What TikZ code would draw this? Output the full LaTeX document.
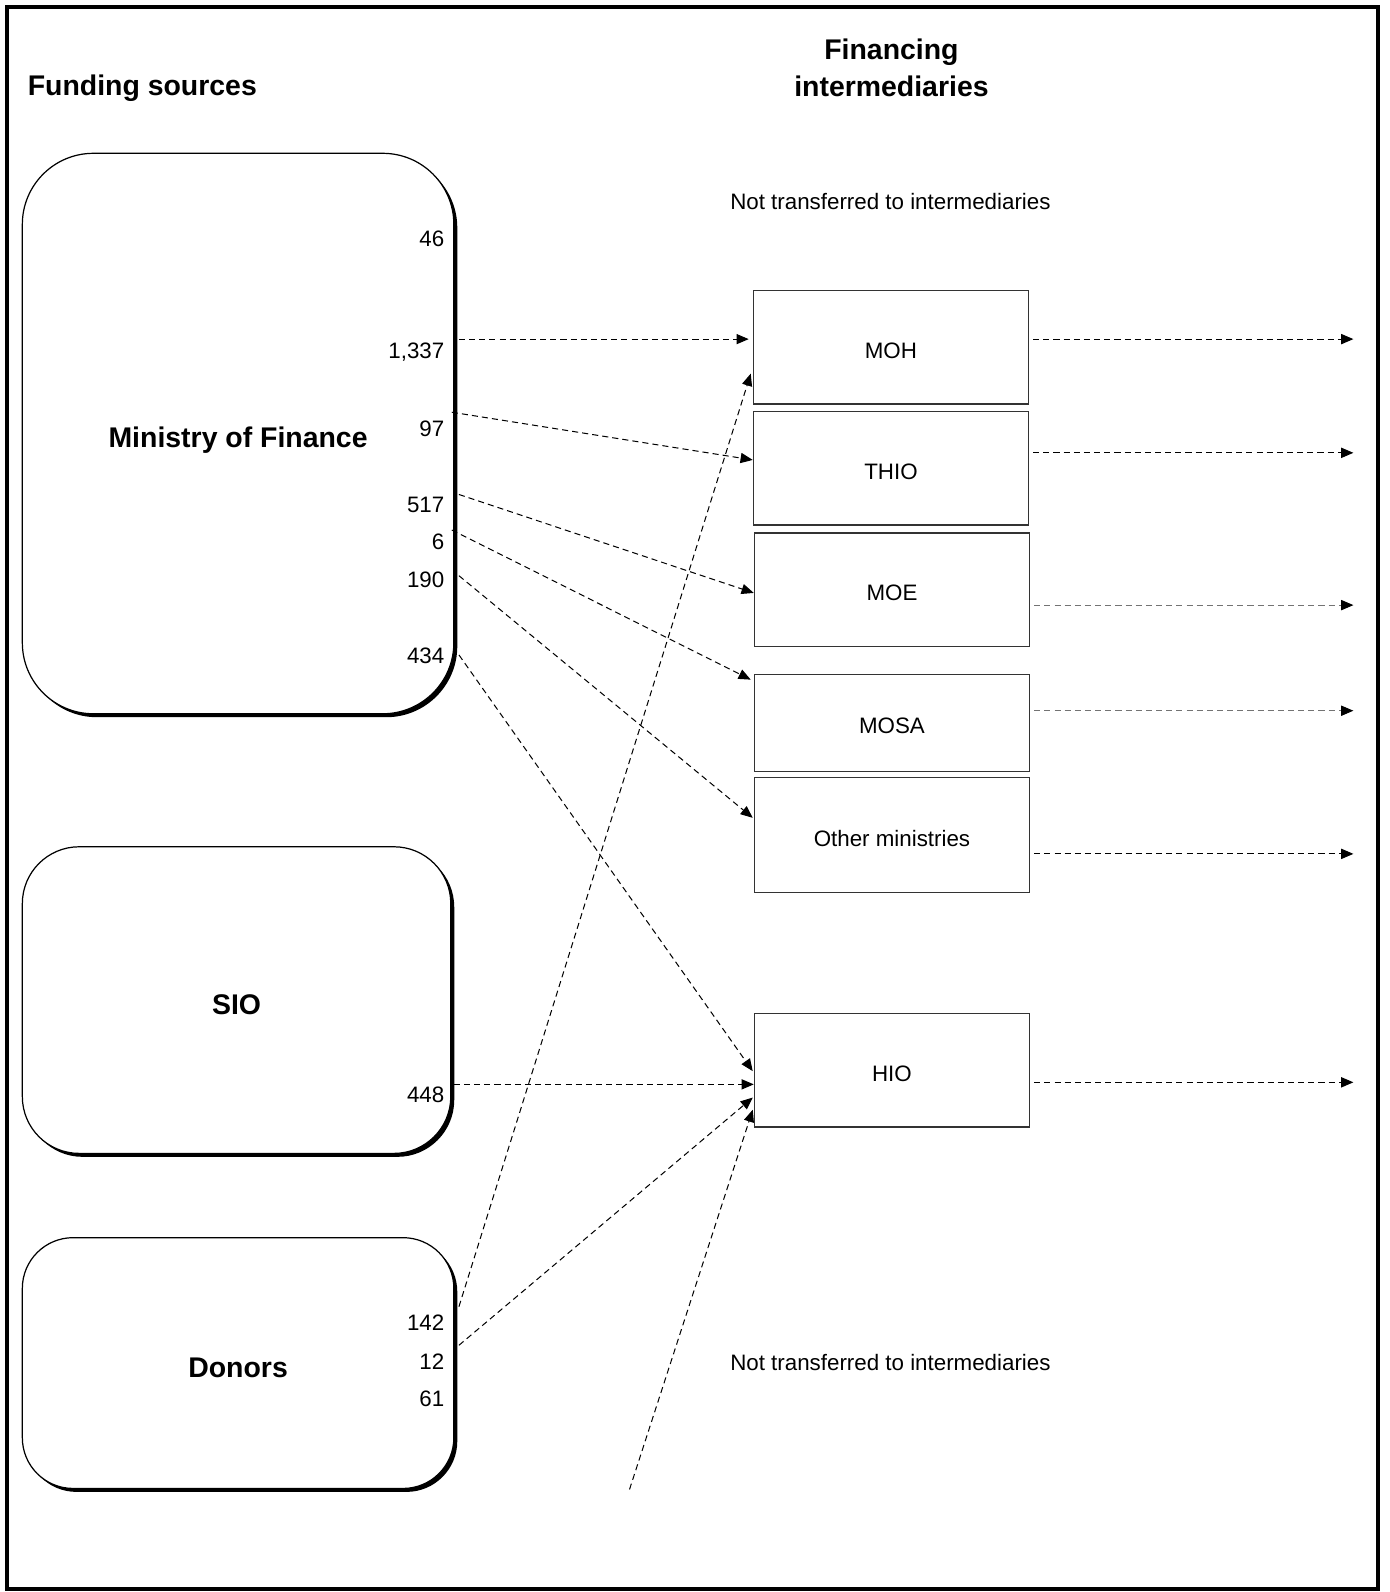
\documentclass[tikz,border=0pt]{standalone}
\usepackage{fontspec}
\setmainfont{Liberation Sans}
\usetikzlibrary{arrows.meta,shadows}
\begin{document}
\begin{tikzpicture}[x=0.5pt,y=-0.5pt,
  head/.style={font=\fontsize{14}{18.5}\selectfont\bfseries, align=center, inner sep=0pt},
  srcbox/.style={draw=black, line width=0.6pt, fill=white, inner sep=0pt,
    text height=14pt, text depth=0pt,
    font=\fontsize{14}{17}\selectfont\bfseries,
    drop shadow={shadow xshift=1.7pt, shadow yshift=-1.7pt, fill=black, opacity=1}},
  intbox/.style={draw=black!80, line width=0.6pt, inner sep=0pt, minimum width=135.5pt,
    text height=10.8pt, text depth=0pt,
    font=\fontsize{11}{13}\selectfont},
  num/.style={anchor=east, inner sep=0pt, font=\fontsize{11}{13}\selectfont},
  note/.style={font=\fontsize{11}{13}\selectfont, inner sep=0pt},
  flow/.style={line width=0.5pt, dash pattern=on 3pt off 2pt, -{Triangle[length=6pt,width=5pt]}},
  outflow/.style={flow, shorten <=2pt},
  lightflow/.style={line width=0.5pt, dash pattern=on 3pt off 2pt, shorten <=2pt,
    draw=black!55, -{Triangle[length=6pt,width=5pt,color=black]}}
]
\useasboundingbox (0,0) rectangle (1369,1568);
\draw[line width=2.2pt] (7,7) rectangle (1357,1565);

% headings
\node[head, anchor=west] (hsrc) at (27,87) {Funding sources};
\node[head] (hint) at (878,67) {Financing\\intermediaries};

% notes
\node[note] (nt1) at (877,198) {Not transferred to intermediaries};
\node[note] (nt2) at (877,1342) {Not transferred to intermediaries};

% source boxes
\node[srcbox, rounded corners=35pt, minimum width=212.5pt, minimum height=276pt] (mof) at (234.5,427) {Ministry of Finance};
\node[srcbox, rounded corners=28pt, minimum width=211pt, minimum height=151pt] (sio) at (233,985) {SIO};
\node[srcbox, rounded corners=25pt, minimum width=212.5pt, minimum height=123.5pt] (don) at (234.5,1342.5) {Donors};

% numbers
\node[num] (n46) at (438,235) {46};
\node[num] (n1337) at (438,347) {1,337};
\node[num] (n97) at (438,422) {97};
\node[num] (n517) at (438,497) {517};
\node[num] (n6) at (438,534) {6};
\node[num] (n190) at (438,571) {190};
\node[num] (n434) at (438,646) {434};
\node[num] (n448) at (438,1078) {448};
\node[num] (n142) at (438,1303) {142};
\node[num] (n12) at (438,1341) {12};
\node[num] (n61) at (438,1378) {61};

% intermediaries
\node[intbox, minimum height=56pt] (moh) at (877.5,342) {MOH};
\node[intbox, minimum height=56pt] (thio) at (877.5,461) {THIO};
\node[intbox, minimum height=56pt] (moe) at (878.5,581) {MOE};
\node[intbox, minimum height=48pt] (mosa) at (878.5,712) {MOSA};
\node[intbox, minimum height=56.5pt] (oth) at (878.5,822.5) {Other ministries};
\node[intbox, minimum height=56pt] (hio) at (878.5,1054) {HIO};

% start ports
\coordinate (s1337) at (452,334);
\coordinate (s97) at (445,406);
\coordinate (s517) at (452,487);
\coordinate (s6) at (445,522);
\coordinate (s190) at (452,567);
\coordinate (s434) at (452,645);
\coordinate (s448) at (447,1068);
\coordinate (s142) at (452,1287);
\coordinate (s12) at (452,1325);
\coordinate (s61) at (620,1467);

% flows into intermediaries
\draw[flow] (s1337) -- ([xshift=-2pt,yshift=4pt]moh.west);
\draw[flow] (s97) -- ([yshift=4pt]thio.west);
\draw[flow] (s517) -- ([yshift=-1.5pt]moe.west);
\draw[flow] (s6) -- ([xshift=-1.5pt,yshift=-3pt]mosa.north west);
\draw[flow] (s190) -- ([xshift=-0.5pt,yshift=8.5pt]oth.west);
\draw[flow] (s434) -- ([xshift=-0.5pt,yshift=-0.5pt]hio.west);
\draw[flow] (s448) -- ([yshift=-7pt]hio.west);
\draw[flow] (s142) -- ([xshift=-1pt,yshift=-13pt]moh.west);
\draw[flow] (s12) -- ([xshift=-0.5pt,yshift=-13.5pt]hio.west);
\draw[flow] (s61) -- ([xshift=-0.5pt,yshift=-19.5pt]hio.west);

% outgoing ends
\coordinate (e1) at (1333,334);
\coordinate (e2) at (1333,446);
\coordinate (e3) at (1333,596);
\coordinate (e4) at (1333,700);
\coordinate (e5) at (1333,841);
\coordinate (e6) at (1333,1066);

\draw[outflow] ([yshift=4pt]moh.east) -- (e1);
\draw[outflow] ([yshift=7.5pt]thio.east) -- (e2);
\draw[lightflow] ([yshift=-7.5pt]moe.east) -- (e3);
\draw[lightflow] ([yshift=6pt]mosa.east) -- (e4);
\draw[outflow] ([yshift=-9.25pt]oth.east) -- (e5);
\draw[outflow] ([yshift=-6pt]hio.east) -- (e6);
\end{tikzpicture}
\end{document}
